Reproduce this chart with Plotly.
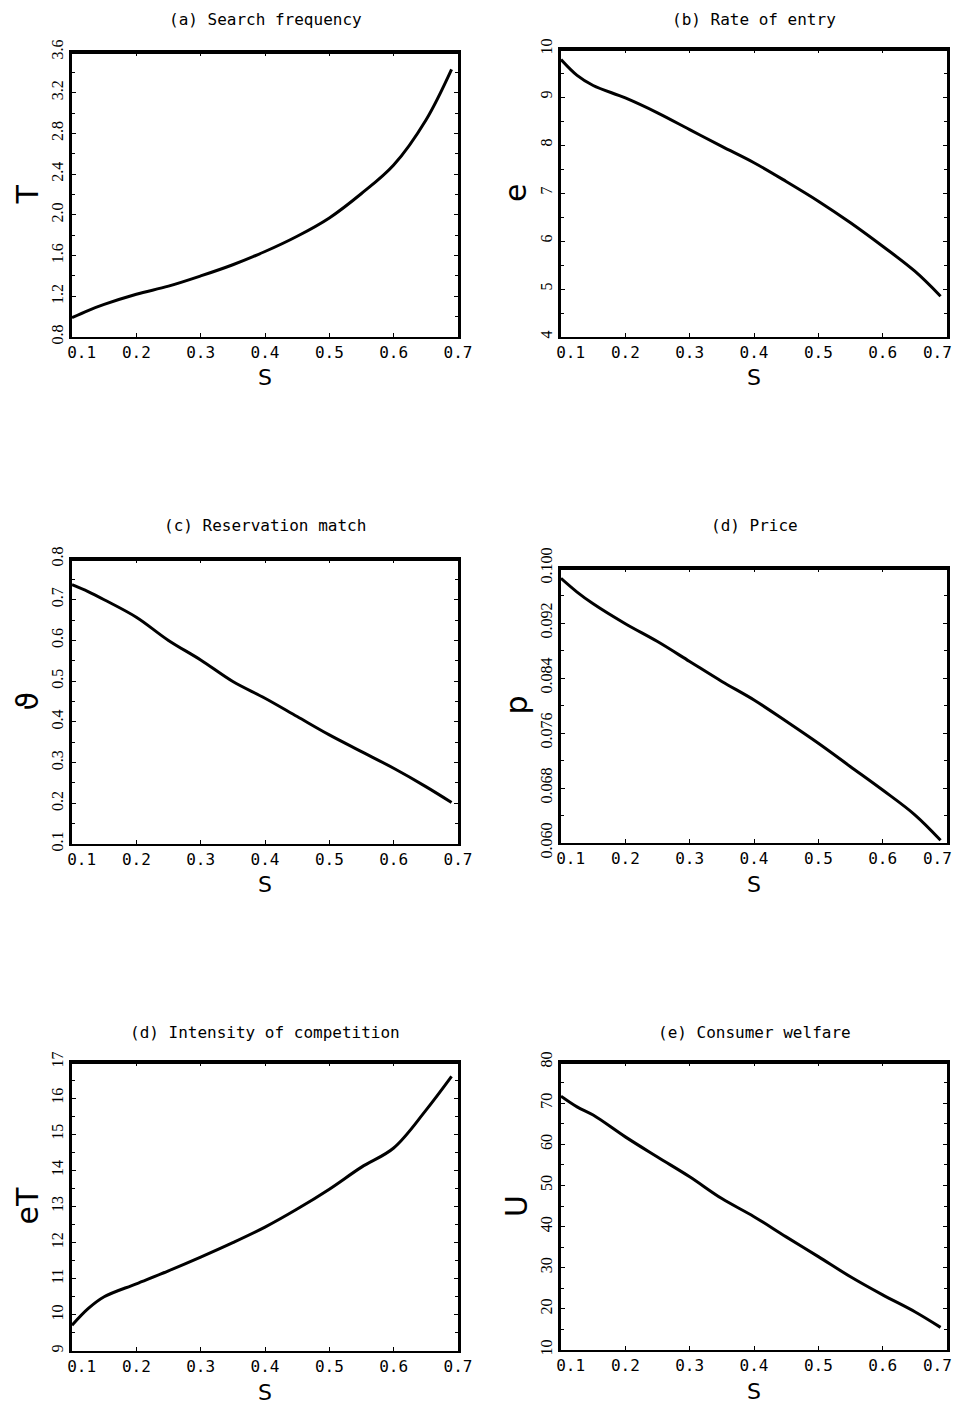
import plotly.graph_objects as go

# ---- data ----
s = [0.10, 0.125, 0.15, 0.20, 0.25, 0.30, 0.35, 0.40, 0.45, 0.50, 0.55, 0.60, 0.65, 0.69]
T_vals = [0.99, 1.06, 1.12, 1.22, 1.30, 1.40, 1.51, 1.64, 1.79, 1.97, 2.21, 2.49, 2.93, 3.43]
e_vals = [9.78, 9.45, 9.24, 8.98, 8.67, 8.32, 7.97, 7.63, 7.24, 6.83, 6.38, 5.89, 5.37, 4.85]
theta_vals = [0.737, 0.72, 0.70, 0.657, 0.60, 0.552, 0.499, 0.458, 0.413, 0.368, 0.327, 0.286, 0.241, 0.202]
p_vals = [0.0985, 0.0965, 0.0948, 0.0919, 0.0893, 0.0864, 0.0835, 0.0808, 0.0777, 0.0745, 0.0711, 0.0677, 0.0641, 0.0604]
eT_vals = [9.71, 10.17, 10.50, 10.86, 11.22, 11.60, 12.00, 12.43, 12.93, 13.48, 14.09, 14.62, 15.66, 16.60]
U_vals = [71.7, 69.1, 67.1, 61.8, 56.9, 52.1, 46.8, 42.4, 37.5, 32.7, 27.8, 23.4, 19.3, 15.5]

titles = ["(a) Search frequency", "(b) Rate of entry", "(c) Reservation match",
          "(d) Price", "(d) Intensity of competition", "(e) Consumer welfare"]
ylabels = ["T", "e", "\u03d1", "p", "eT", "U"]
xlabel = "S"
x_ticks = [0.1, 0.2, 0.3, 0.4, 0.5, 0.6, 0.7]
x_ticktext_left = ["\u2002\u20020.1", "0.2", "0.3", "0.4", "0.5", "0.6", "0.7"]
x_ticktext_right = ["\u2002\u20020.1", "0.2", "0.3", "0.4", "0.5", "0.6", "0.7\u2002\u2002"]
y_ranges = [[0.8, 3.6], [4, 10], [0.1, 0.8], [0.060, 0.100], [9, 17], [10, 80]]
y_dticks = [0.4, 1, 0.1, 0.008, 1, 10]
y_formats = [".1f", "d", ".1f", ".3f", "d", "d"]
series = [T_vals, e_vals, theta_vals, p_vals, eT_vals, U_vals]

OFF = 8  # page body margin
W, H = 964, 1403
# plot boxes in page pixels: (left, right, top, bottom)
boxes = [(72, 458, 52, 337), (561, 947, 49, 337),
         (72, 458, 559, 844), (561, 947, 568, 843),
         (72, 458, 1062, 1351), (561, 947, 1062, 1350)]
title_y = [19, 19, 525, 525, 1032, 1032]


def px(v):
    return (v - OFF) / W


def py(v):
    return 1 - (v - OFF) / H


fig = go.Figure()
layout = dict(width=W, height=H, template="none",
              margin=dict(l=0, r=0, t=0, b=0, pad=0, autoexpand=False),
              paper_bgcolor="white", plot_bgcolor="white", showlegend=False)
annotations = []
shapes = []
for i, (ys, box) in enumerate(zip(series, boxes)):
    n = "" if i == 0 else str(i + 1)
    l, r, t, b = box
    xd = [px(l), px(r)]
    yd = [py(b), py(t)]
    fig.add_trace(go.Scatter(x=s, y=ys, mode="lines", line=dict(color="black", width=3, shape="spline"),
                             xaxis="x" + n, yaxis="y" + n))
    layout["xaxis" + n] = dict(domain=xd, anchor="y" + n, range=[0.1, 0.7], tickvals=x_ticks,
                               ticktext=x_ticktext_left if i % 2 == 0 else x_ticktext_right,
                               showgrid=False, zeroline=False, automargin=False,
                               showline=True, linecolor="black", linewidth=2, mirror="ticks",
                               ticks="inside", ticklen=4, tickcolor="black",
                               tickfont=dict(family="DejaVu Sans Mono", size=16, color="black"))
    layout["yaxis" + n] = dict(domain=yd, anchor="x" + n, range=y_ranges[i], dtick=y_dticks[i],
                               tick0=y_ranges[i][0], tickformat=y_formats[i], tickangle=-90,
                               showgrid=False, zeroline=False, automargin=False,
                               showline=True, linecolor="black", linewidth=2.5, mirror="ticks",
                               ticks="inside", ticklen=4, tickcolor="black",
                               minor=dict(ticks="inside", ticklen=3, dtick=y_dticks[i] / 2, tickcolor="black"),
                               tickfont=dict(family="Liberation Serif", size=16, color="black"))
    cx = (l + r) / 2
    annotations.append(dict(text=titles[i], x=px(cx), y=py(title_y[i]), xref="paper", yref="paper",
                            showarrow=False, xanchor="center", yanchor="middle",
                            font=dict(family="DejaVu Sans Mono", size=16, color="black")))
    annotations.append(dict(text=ylabels[i], x=px(l - 45), y=py((t + b) / 2), xref="paper", yref="paper",
                            showarrow=False, xanchor="center", yanchor="middle", textangle=-90,
                            font=dict(family="DejaVu Sans", size=30, color="black")))
    annotations.append(dict(text=xlabel, x=px(cx), y=py(b + 41), xref="paper", yref="paper",
                            showarrow=False, xanchor="center", yanchor="middle",
                            font=dict(family="DejaVu Sans", size=22, color="black")))
    shapes.append(dict(type="line", xref="paper", yref="paper", x0=xd[0], x1=xd[1], y0=yd[1], y1=yd[1],
                       line=dict(color="black", width=4)))
layout["annotations"] = annotations
layout["shapes"] = shapes
fig.update_layout(**layout)
fig.write_html("out.html")
